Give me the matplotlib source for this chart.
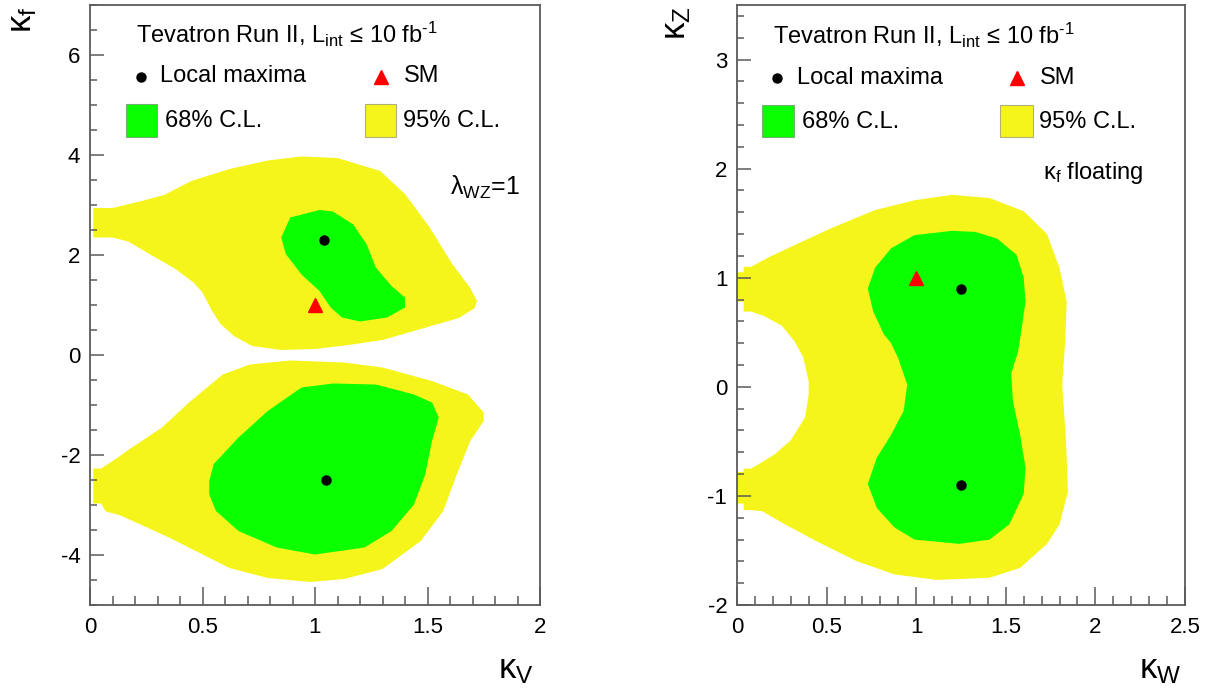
import matplotlib
matplotlib.use("Agg")
import matplotlib.pyplot as plt
from matplotlib.ticker import MultipleLocator
from matplotlib.patches import Polygon, Rectangle

plt.rcParams['font.family'] = ['Liberation Sans', 'DejaVu Sans']
plt.rcParams['mathtext.fontset'] = 'custom'
plt.rcParams['mathtext.rm'] = 'Liberation Sans'
plt.rcParams['mathtext.it'] = 'Liberation Sans'
plt.rcParams['mathtext.bf'] = 'Liberation Sans:bold'
plt.rcParams['mathtext.default'] = 'regular'
plt.rcParams['axes.unicode_minus'] = False

# ---------------- data: left panel (kappa_V vs kappa_f) ----------------
left_y95_upper_x = [0.015, 0.10, 0.23, 0.33, 0.45, 0.62, 0.79, 0.94, 1.10, 1.29, 1.40, 1.51, 1.61, 1.69,
                    1.72, 1.71, 1.64, 1.47, 1.30, 1.15, 1.00, 0.85, 0.72, 0.64, 0.58, 0.54, 0.50, 0.46,
                    0.38, 0.26, 0.17, 0.10, 0.015]
left_y95_upper_y = [2.94, 2.94, 3.08, 3.20, 3.48, 3.72, 3.89, 3.97, 3.94, 3.68, 3.22, 2.55, 1.82, 1.34,
                    1.08, 0.94, 0.74, 0.52, 0.30, 0.20, 0.12, 0.10, 0.18, 0.38, 0.62, 0.90, 1.25, 1.45,
                    1.72, 2.03, 2.27, 2.35, 2.35]

left_g68_upper_x = [1.02, 1.08, 1.17, 1.23, 1.27, 1.34, 1.40, 1.40, 1.32, 1.20, 1.12, 1.07, 1.02, 0.94,
                    0.87, 0.85, 0.89]
left_g68_upper_y = [2.90, 2.87, 2.61, 2.21, 1.75, 1.38, 1.15, 0.95, 0.75, 0.67, 0.75, 0.95, 1.28, 1.61,
                    2.02, 2.35, 2.75]

left_y95_lower_x = [0.015, 0.05, 0.13, 0.17, 0.32, 0.44, 0.59, 0.71, 0.89, 1.13, 1.30, 1.52, 1.68, 1.75,
                    1.75, 1.69, 1.63, 1.57, 1.47, 1.30, 1.13, 0.98, 0.79, 0.62, 0.36, 0.23, 0.13, 0.07,
                    0.05, 0.015]
left_y95_lower_y = [-2.27, -2.27, -2.03, -1.90, -1.45, -0.95, -0.39, -0.19, -0.11, -0.15, -0.25, -0.52,
                    -0.79, -1.15, -1.32, -1.72, -2.39, -3.12, -3.72, -4.28, -4.48, -4.54, -4.46, -4.26,
                    -3.67, -3.40, -3.20, -3.13, -2.97, -2.97]

left_g68_lower_x = [0.53, 0.55, 0.66, 0.79, 0.94, 1.08, 1.27, 1.44, 1.52, 1.55, 1.52, 1.49, 1.44, 1.34,
                    1.22, 1.00, 0.83, 0.66, 0.56, 0.53]
left_g68_lower_y = [-2.52, -2.18, -1.65, -1.12, -0.65, -0.57, -0.59, -0.79, -0.95, -1.25, -1.72, -2.39,
                    -2.99, -3.52, -3.85, -3.99, -3.85, -3.52, -3.12, -2.79]

left_max_x = [1.04, 1.05]
left_max_y = [2.30, -2.50]
left_sm_x = [1.0]
left_sm_y = [1.0]

left_xticks = [0, 0.5, 1, 1.5, 2]
left_xticklabels = ['0', '0.5', '1', '1.5', '2']
left_yticks = [-4, -2, 0, 2, 4, 6]
left_yticklabels = ['-4', '-2', '0', '2', '4', '6']

# ---------------- data: right panel (kappa_W vs kappa_Z) ----------------
right_y95_x = [0.0, 0.037, 0.037, 0.078, 0.18, 0.31, 0.52, 0.77, 0.99, 1.20, 1.41, 1.60, 1.73, 1.80,
               1.84, 1.83, 1.815, 1.836, 1.847, 1.80, 1.73, 1.58, 1.41, 1.115, 0.88, 0.67, 0.437, 0.267,
               0.14, 0.078, 0.037, 0.037, 0.0, 0.0, 0.037, 0.037, 0.078, 0.12, 0.21, 0.30, 0.38, 0.40,
               0.40, 0.37, 0.32, 0.25, 0.15, 0.078, 0.037, 0.037, 0.0]
right_y95_y = [1.05, 1.05, 1.10, 1.10, 1.19, 1.29, 1.45, 1.62, 1.71, 1.76, 1.73, 1.61, 1.40, 1.09,
               0.78, 0.38, 0.02, -0.50, -0.96, -1.26, -1.44, -1.66, -1.75, -1.77, -1.72, -1.60, -1.41,
               -1.26, -1.14, -1.13, -1.13, -1.07, -1.07, -0.78, -0.78, -0.75, -0.75, -0.71, -0.62,
               -0.49, -0.28, -0.07, 0.05, 0.27, 0.42, 0.56, 0.65, 0.69, 0.69, 0.78, 0.78]

right_g68_x = [1.20, 1.33, 1.45, 1.56, 1.60, 1.61, 1.57, 1.53, 1.54, 1.58, 1.61, 1.60, 1.52, 1.41, 1.24,
               0.99, 0.88, 0.78, 0.73, 0.78, 0.86, 0.93, 0.95, 0.90, 0.86, 0.82, 0.76, 0.73, 0.77, 0.86,
               0.99]
right_g68_y = [1.43, 1.42, 1.36, 1.21, 1.00, 0.78, 0.33, 0.12, -0.13, -0.44, -0.74, -0.98, -1.26, -1.40,
               -1.44, -1.40, -1.29, -1.11, -0.89, -0.65, -0.44, -0.22, 0.02, 0.26, 0.40, 0.48, 0.69,
               0.90, 1.09, 1.27, 1.39]

right_max_x = [1.25, 1.25]
right_max_y = [0.90, -0.90]
right_sm_x = [1.0]
right_sm_y = [1.0]

right_xticks = [0, 0.5, 1, 1.5, 2, 2.5]
right_xticklabels = ['0', '0.5', '1', '1.5', '2', '2.5']
right_yticks = [-2, -1, 0, 1, 2, 3]
right_yticklabels = ['-2', '-1', '0', '1', '2', '3']

# ---------------- style ----------------
GREEN = '#0aff00'
YELLOW = '#f5f51c'
FRAME = '#5a5a5a'
TICK_FS = 16
LEG_FS = 17
LAB_FS = 25

fig = plt.figure(figsize=(12.09, 6.89), dpi=100)
ax1 = fig.add_axes([90/1209, 84/689, 450/1209, 600/689])
ax2 = fig.add_axes([737/1209, 84/689, 448/1209, 600/689])


def style_axes(ax, xlim, ylim, xticks, xlabels, yticks, ylabels, xminor, yminor):
    ax.set_xlim(*xlim)
    ax.set_ylim(*ylim)
    ax.set_xticks(xticks)
    ax.set_xticklabels(xlabels)
    ax.set_yticks(yticks)
    ax.set_yticklabels(ylabels)
    ax.xaxis.set_minor_locator(MultipleLocator(xminor))
    ax.yaxis.set_minor_locator(MultipleLocator(yminor))
    for s in ax.spines.values():
        s.set_color(FRAME)
        s.set_linewidth(1.3)
    ax.tick_params(axis='x', which='major', direction='in', length=13, width=1.1, color=FRAME,
                   pad=8.5, labelsize=TICK_FS, top=False)
    ax.tick_params(axis='x', which='minor', direction='in', length=6.5, width=1.1, color=FRAME, top=False)
    ax.tick_params(axis='y', which='major', direction='in', length=10, width=1.1, color=FRAME,
                   pad=7, labelsize=TICK_FS, right=False)
    ax.tick_params(axis='y', which='minor', direction='in', length=4.8, width=1.1, color=FRAME, right=False)


def draw_legend(ax, x_text, y_title, x_dot, x_lm, y_row1, x_tri, x_sm,
                gbox, ybox, x_g, x_y, y_row2, dx, dy):
    ax.text(x_text, y_title, r'Tevatron Run II, L$_{\rm int}$ ≤ 10 fb$^{\text{-1}}$', fontsize=LEG_FS,
            va='center', ha='left')
    ax.plot([x_dot], [y_row1], 'o', color='black', ms=6.5, clip_on=False)
    ax.text(x_lm, y_row1, 'Local maxima', fontsize=LEG_FS, va='center', ha='left')
    ax.plot([x_tri], [y_row1], '^', color='red', ms=10, clip_on=False)
    ax.text(x_sm, y_row1, 'SM', fontsize=LEG_FS, va='center', ha='left')
    ax.add_patch(Rectangle(gbox, dx, dy, facecolor=GREEN, edgecolor=(0.4, 0.5, 0.4, 0.6), lw=0.8))
    ax.add_patch(Rectangle(ybox, dx, dy, facecolor=YELLOW, edgecolor=(0.5, 0.5, 0.4, 0.6), lw=0.8))
    ax.text(x_g, y_row2, '68% C.L.', fontsize=LEG_FS, va='center', ha='left')
    ax.text(x_y, y_row2, '95% C.L.', fontsize=LEG_FS, va='center', ha='left')


# ----- left panel -----
ax1.add_patch(Polygon(list(zip(left_y95_upper_x, left_y95_upper_y)), closed=True, facecolor=YELLOW, edgecolor='none'))
ax1.add_patch(Polygon(list(zip(left_y95_lower_x, left_y95_lower_y)), closed=True, facecolor=YELLOW, edgecolor='none'))
ax1.add_patch(Polygon(list(zip(left_g68_upper_x, left_g68_upper_y)), closed=True, facecolor=GREEN, edgecolor='none'))
ax1.add_patch(Polygon(list(zip(left_g68_lower_x, left_g68_lower_y)), closed=True, facecolor=GREEN, edgecolor='none'))
ax1.plot(left_max_x, left_max_y, 'o', color='black', ms=6.5, ls='none')
ax1.plot(left_sm_x, left_sm_y, '^', color='red', ms=10, ls='none')
style_axes(ax1, (0, 2), (-5, 7), left_xticks, left_xticklabels, left_yticks, left_yticklabels, 0.1, 0.5)
draw_legend(ax1, 0.206, 6.42, 0.228, 0.313, 5.57, 1.294, 1.396,
            (0.158, 4.37), (1.221, 4.37), 0.333, 1.393, 4.68, 0.141, 0.65)
ax1.text(1.60, 3.35, r'$\lambda_{\rm WZ}$=1', fontsize=LEG_FS + 1, va='center', ha='left')
ax1.text(0.987, -0.108, r'$\kappa_{\rm V}$', transform=ax1.transAxes, fontsize=LAB_FS, ha='right', va='center')
ax1.text(-0.151, 0.998, r'$\kappa_{\rm f}$', transform=ax1.transAxes, fontsize=LAB_FS, ha='center', va='top',
         rotation=90)

# ----- right panel -----
ax2.add_patch(Polygon(list(zip(right_y95_x, right_y95_y)), closed=True, facecolor=YELLOW, edgecolor='none'))
ax2.add_patch(Polygon(list(zip(right_g68_x, right_g68_y)), closed=True, facecolor=GREEN, edgecolor='none'))
ax2.plot(right_max_x, right_max_y, 'o', color='black', ms=6.5, ls='none')
ax2.plot(right_sm_x, right_sm_y, '^', color='red', ms=10, ls='none')
style_axes(ax2, (0, 2.5), (-2, 3.5), right_xticks, right_xticklabels, right_yticks, right_yticklabels, 0.1, 0.2)
draw_legend(ax2, 0.199, 3.22, 0.225, 0.335, 2.83, 1.56, 1.69,
            (0.14, 2.29), (1.47, 2.29), 0.363, 1.684, 2.43, 0.18, 0.29)
ax2.text(1.71, 1.96, r'$\kappa_{\rm f}$ floating', fontsize=LEG_FS, va='center', ha='left')
ax2.text(0.993, -0.108, r'$\kappa_{\rm W}$', transform=ax2.transAxes, fontsize=LAB_FS, ha='right', va='center')
ax2.text(-0.136, 0.998, r'$\kappa_{\rm Z}$', transform=ax2.transAxes, fontsize=LAB_FS, ha='center', va='top',
         rotation=90)

fig.savefig('out.png', dpi=100)
